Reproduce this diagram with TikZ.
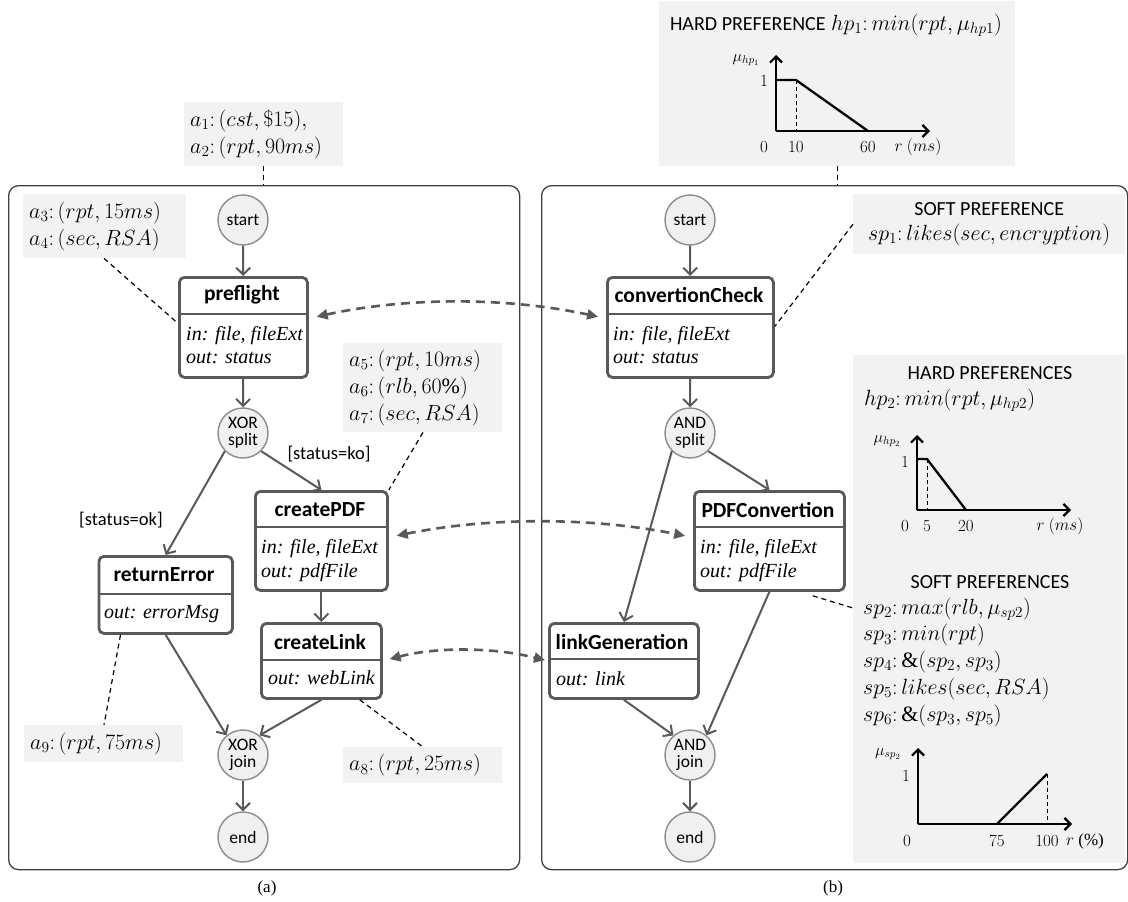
\RequirePackage{fix-cm}
\documentclass[tikz,border=0pt]{standalone}
\usepackage{fontspec}
\setmainfont{Liberation Serif}
\setsansfont{Carlito}
\usetikzlibrary{arrows.meta}
\definecolor{dgray}{HTML}{595959}
\definecolor{mgray}{HTML}{8C8C8C}
\definecolor{cgray}{HTML}{F0F0F0}
\definecolor{boxgray}{HTML}{F2F2F2}
\definecolor{pline}{HTML}{404040}
\newcommand\mfs{\fontsize{22}{27}\selectfont}
\newcommand\tfs{\fontsize{21.5}{24}\selectfont\sffamily\bfseries}
\newcommand\bfs{\fontsize{20}{23.5}\selectfont\itshape}
\newcommand\gfs{\fontsize{17.5}{17}\selectfont\sffamily}
\newcommand\sfs{\fontsize{20}{24}\selectfont\sffamily}
\newcommand\lfs{\fontsize{18.5}{22}\selectfont\sffamily}
\newcommand\cfs{\fontsize{17}{20}\selectfont}
\begin{document}
\begin{tikzpicture}[x=1pt,y=-1pt,
  panel/.style={draw=pline,line width=1.3pt,rounded corners=10pt,inner sep=0pt,anchor=north west},
  anno/.style={fill=boxgray,inner xsep=6pt,inner ysep=0pt,align=left,anchor=north west,font=\mfs},
  gbox/.style={fill=boxgray,inner sep=0pt,anchor=north west},
  task/.style={draw=dgray,line width=2.8pt,rounded corners=5pt,fill=white,inner sep=0pt,anchor=north west},
  ttl/.style={font=\tfs,inner sep=0pt},
  bl/.style={font=\bfs,inner sep=0pt,anchor=west,text height=14pt,text depth=4pt},
  gate/.style={circle,draw=mgray,line width=1.4pt,fill=cgray,minimum size=50pt,inner sep=0pt,font=\gfs,align=center},
  flow/.style={draw=dgray,line width=2pt,-{Straight Barb[length=7pt,width=14pt]}},
  link/.style={draw=dgray,line width=2.6pt,dash pattern=on 9pt off 6pt,{Triangle[length=11pt,width=10pt]}-{Triangle[length=11pt,width=10pt]},shorten <=8pt,shorten >=8pt},
  note/.style={draw=black,line width=1.2pt,dash pattern=on 5pt off 4pt},
  axis/.style={draw=black,line width=2.2pt,-{Straight Barb[length=6pt,width=12pt]}},
  curve/.style={draw=black,line width=2.3pt},
  guide/.style={draw=black,line width=1pt,dash pattern=on 4pt off 3pt},
  clab/.style={font=\cfs,inner sep=0pt},
  mlab/.style={font=\fontsize{16}{18}\selectfont,inner sep=0pt}]
\useasboundingbox (0,0) rectangle (1128,902);

% panels
\node[panel,minimum width=511pt,minimum height=684pt] (pA) at (8,185) {};
\node[panel,minimum width=586pt,minimum height=684pt] (pB) at (541,185) {};

% annotation boxes
\node[anno,text width=147pt,minimum height=64pt] (a12) at (184,102) {$a_1{:}\,(cst,\$15),$\\$a_2{:}\,(rpt,90ms)$};
\node[anno,text width=151pt,minimum height=64pt] (a34) at (23,194) {$a_3{:}\,(rpt,15ms)$\\$a_4{:}\,(sec,RSA)$};
\node[anno,text width=147pt,minimum height=89pt] (a567) at (343,343) {$a_5{:}\,(rpt,10ms)$\\$a_6{:}\,(rlb,60\%)$\\$a_7{:}\,(sec,RSA)$};
\node[anno,text width=147pt,minimum height=37pt] (a9) at (24,725) {$a_9{:}\,(rpt,75ms)$};
\node[anno,text width=147pt,minimum height=36pt] (a8) at (343,747) {$a_8{:}\,(rpt,25ms)$};

\node[gbox,minimum width=356pt,minimum height=165pt] (hp1) at (659,1) {};
\node[gbox,minimum width=272pt,minimum height=60pt,align=center,font=\fontsize{22}{25}\selectfont] (sp1) at (853,194) {{\sffamily\fontsize{20}{25}\selectfont SOFT PREFERENCE}\\$sp_1{:}\,likes(sec,encryption)$};
\node[gbox,minimum width=272pt,minimum height=508pt] (hpbox) at (853,355) {};

% gates
\node[gate] (s1) at (243,220) {start};
\node[gate] (xs) at (243,433) {XOR\\split};
\node[gate] (xj) at (243,755) {XOR\\join};
\node[gate] (e1) at (243,837) {end};
\node[gate] (s2) at (690,220) {start};
\node[gate] (as) at (690,433) {AND\\split};
\node[gate] (aj) at (690,755) {AND\\join};
\node[gate] (e2) at (690,837) {end};

% tasks (left)
\node[task,minimum width=128pt,minimum height=100pt] (pre) at (178,276) {};
\draw[dgray,line width=2.2pt] (pre.west |- 0,314) -- (pre.east |- 0,314);
\node[ttl] (pre-t) at (242,295) {preflight};
\node[bl] (pre-i) at (186,335) {in: file, fileExt};
\node[bl] (pre-o) at (186,358) {out: status};

\node[task,minimum width=132pt,minimum height=99pt] (cpdf) at (254,490) {};
\draw[dgray,line width=2.2pt] (cpdf.west |- 0,527) -- (cpdf.east |- 0,527);
\node[ttl] (cpdf-t) at (320,510) {createPDF};
\node[bl] (cpdf-i) at (261,548) {in: file, fileExt};
\node[bl] (cpdf-o) at (261,572) {out: pdfFile};

\node[task,minimum width=133.5pt,minimum height=77pt] (re) at (97.5,555) {};
\draw[dgray,line width=2.2pt] (re.west |- 0,594) -- (re.east |- 0,594);
\node[ttl] (re-t) at (164,575) {returnError};
\node[bl] (re-o) at (104,613) {out: errorMsg};

\node[task,minimum width=120pt,minimum height=75pt] (cl) at (260,622) {};
\draw[dgray,line width=2.2pt] (cl.west |- 0,660) -- (cl.east |- 0,660);
\node[ttl] (cl-t) at (320,642) {createLink};
\node[bl] (cl-o) at (268,679) {out: webLink};

% tasks (right)
\node[task,minimum width=166pt,minimum height=100pt] (cc) at (606,276) {};
\draw[dgray,line width=2.2pt] (cc.west |- 0,314) -- (cc.east |- 0,314);
\node[ttl] (cc-t) at (689,295) {convertionCheck};
\node[bl] (cc-i) at (613,335) {in: file, fileExt};
\node[bl] (cc-o) at (613,358) {out: status};

\node[task,minimum width=150pt,minimum height=99pt] (pdfc) at (693,490) {};
\draw[dgray,line width=2.2pt] (pdfc.west |- 0,527) -- (pdfc.east |- 0,527);
\node[ttl] (pdfc-t) at (768,510) {PDFConvertion};
\node[bl] (pdfc-i) at (700,548) {in: file, fileExt};
\node[bl] (pdfc-o) at (700,572) {out: pdfFile};

\node[task,minimum width=149pt,minimum height=75pt] (lg) at (548,622) {};
\draw[dgray,line width=2.2pt] (lg.west |- 0,659) -- (lg.east |- 0,659);
\node[ttl] (lg-t) at (622,642) {linkGeneration};
\node[bl] (lg-o) at (556,680) {out: link};

% flows
\draw[flow] (s1) -- (pre);
\draw[flow] (pre) -- (xs);
\draw[flow] (xs.225) -- (re.north);
\draw[flow] (xs.315) -- (cpdf.north);
\draw[flow] (cpdf) -- (cl);
\draw[flow] (re.south) -- (xj.130);
\draw[flow] (cl.south) -- (xj.50);
\draw[flow] (xj) -- (e1);
\draw[flow] (s2) -- (cc);
\draw[flow] (cc) -- (as);
\draw[flow] (as.225) -- (lg.north);
\draw[flow] (as.315) -- (pdfc.north);
\draw[flow] (lg.south) -- (aj.130);
\draw[flow] (pdfc.south) -- (aj.50);
\draw[flow] (aj) -- (e2);

\node[font=\lfs,inner sep=0pt] (lko) at (329,454) {[status=ko]};
\node[font=\lfs,inner sep=0pt] (lok) at (121,520) {[status=ok]};

% correspondence links
\draw[link] ([yshift=9pt]pre.east) .. controls (407,297) and (506,297) .. ([yshift=9pt]cc.west);
\draw[link] ([yshift=3.5pt]cpdf.east) .. controls (488,517) and (591,517) .. ([yshift=3.5pt]pdfc.west);
\draw[link,shorten >=3pt,shorten <=7pt] (cl.east) .. controls (436,647) and (492,647) .. (lg.west);

% annotation connectors
\draw[note] (a12) -- (a12 |- pA.north);
\draw[note] (hp1) -- (hp1 |- pB.north);
\draw[note] ([xshift=81pt]a34.south west) -- ([yshift=4pt]pre.west);
\draw[note] ([xshift=80pt]a567.south west) -- (cpdf.north east);
\draw[note] ([xshift=23pt]re.south west) -- ([xshift=80pt]a9.north west);
\draw[note] ([xshift=-23pt]cl.south east) -- ([xshift=80pt]a8.north west);
\draw[note] (sp1.west) -- ([yshift=1pt]cc.east);
\draw[note] ([xshift=-33pt,yshift=-4pt]pdfc.south east) -- ([yshift=-253pt]hpbox.north west);

% hard preference 1
\node[font=\mfs,inner sep=0pt] (hp1t) at (836,25) {{\sfs HARD PREFERENCE} $hp_1{:}\,min\bigl(rpt,\mu_{hp1}\bigr)$};
\draw[axis] (776,131) -- (776,55);
\draw[axis] (776,131) -- (930,131);
\draw[curve] (776,80) -- (796,80) -- (868,131);
\draw[guide] (796,80) -- (796,131);
\node[mlab] at (746,60) {$\mu_{hp_1}$};
\node[clab] at (764,81) {$1$};
\node[clab] at (764,147) {$0$};
\node[clab] at (796,147) {$10$};
\node[clab] at (868,147) {$60$};
\node[clab] at (918,147) {$r\ (ms)$};

% hard preference 2
\node[font=\sfs,inner sep=0pt] (hp2t) at (990,373) {HARD PREFERENCES};
\node[font=\mfs,inner sep=0pt,anchor=west] (hp2f) at (864,400) {$hp_2{:}\,min\bigl(rpt,\mu_{hp2}\bigr)$};
\draw[axis] (917,510) -- (917,435);
\draw[axis] (917,510) -- (1071,510);
\draw[curve] (917,459) -- (927,459) -- (966,510);
\draw[guide] (927,459) -- (927,510);
\node[mlab] at (887,441) {$\mu_{hp_2}$};
\node[clab] at (905,462) {$1$};
\node[clab] at (905,526) {$0$};
\node[clab] at (927,526) {$5$};
\node[clab] at (966,526) {$20$};
\node[clab] at (1060,526) {$r\ (ms)$};

% soft preferences
\node[font=\sfs,inner sep=0pt] (spt) at (990,582) {SOFT PREFERENCES};
\node[font=\fontsize{22}{26.75}\selectfont,inner sep=0pt,anchor=west,align=left] (sptxt) at (863,662) {$sp_2{:}\,max\bigl(rlb,\mu_{sp2}\bigr)$\\$sp_3{:}\,min(rpt)$\\$sp_4{:}\,\&(sp_2,sp_3)$\\$sp_5{:}\,likes(sec,RSA)$\\$sp_6{:}\,\&(sp_3,sp_5)$};
\draw[axis] (918,824) -- (918,748);
\draw[axis] (918,824) -- (1072,824);
\draw[curve] (997,824) -- (1047,774);
\draw[guide] (1047,774) -- (1047,824);
\node[mlab] at (888,754) {$\mu_{sp_2}$};
\node[clab] at (906,776) {$1$};
\node[clab] at (907,841) {$0$};
\node[clab] at (997,841) {$75$};
\node[clab] at (1047,841) {$100$};
\node[clab] at (1085,841) {$r$ (\%)};

% captions
\node[font=\cfs,inner sep=0pt] (capa) at (267,888) {(a)};
\node[font=\cfs,inner sep=0pt] (capb) at (833,888) {(b)};
\end{tikzpicture}
\end{document}
